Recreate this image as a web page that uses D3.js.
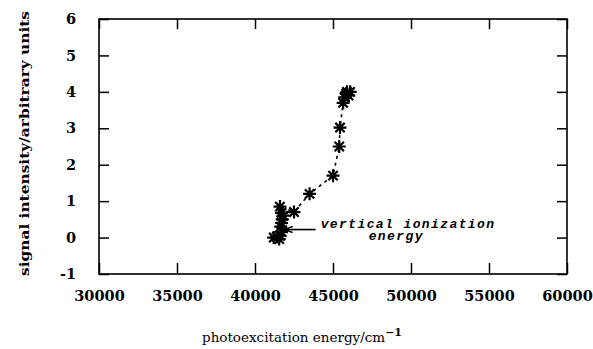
<!DOCTYPE html>
<html>
<head>
<meta charset="utf-8">
<script src="https://cdn.jsdelivr.net/npm/d3@7"></script>
<style>
  body { margin: 0; background: #fff; }
  svg { display: block; }
</style>
</head>
<body>
<script>
// Chart data
const energy = [41200, 41400, 41550, 41600, 41700, 41650, 41700, 41750, 41800, 41700, 41600,
                42500, 43500, 45000, 45400, 45450, 45650, 45750, 45900, 46000, 46100, 45850];
const signal = [0, 0.02, -0.04, 0.05, 0.15, 0.3, 0.4, 0.5, 0.6, 0.68, 0.85,
                0.7, 1.2, 1.7, 2.5, 3.02, 3.7, 3.85, 4.0, 3.9, 4.0, 3.95];
const xTicks = [30000, 35000, 40000, 45000, 50000, 55000, 60000];
const yTicks = [-1, 0, 1, 2, 3, 4, 5, 6];
const annotation = ['vertical ionization', 'energy'];
const arrowAt = { x: 41900, y: 0.22 };

const width = 593;
const height = 349;
const margin = { top: 19, right: 26, bottom: 75, left: 99 };
const innerWidth = width - margin.left - margin.right;
const innerHeight = height - margin.top - margin.bottom;

const svg = d3.select('body')
  .append('svg')
  .attr('width', width)
  .attr('height', height);

const g = svg.append('g')
  .attr('transform', `translate(${margin.left},${margin.top})`);

const x = d3.scaleLinear().domain([30000, 60000]).range([0, innerWidth]);
const y = d3.scaleLinear().domain([-1, 6]).range([innerHeight, 0]);

const tickFont = '"DejaVu Serif", serif';
const plainInt = d => String(d); // plain hyphen for negatives, as in the scan

// Axes: gnuplot style, ticks inside and mirrored
function styleAxis(sel, showText) {
  sel.select('.domain').remove();
  sel.selectAll('line').attr('stroke', '#000').attr('stroke-width', 1.5);
  if (!showText) {
    sel.selectAll('text').remove();
    return;
  }
  sel.selectAll('text')
    .attr('font-family', tickFont)
    .attr('font-weight', 'bold')
    .attr('font-size', 14.5)
    .attr('fill', '#000');
}

g.append('g')
  .attr('transform', `translate(0,${innerHeight})`)
  .call(d3.axisBottom(x).tickValues(xTicks).tickFormat(plainInt).tickSizeInner(-11).tickSizeOuter(0).tickPadding(17))
  .call(s => styleAxis(s, true));

g.append('g')
  .call(d3.axisTop(x).tickValues(xTicks).tickSizeInner(-10).tickSizeOuter(0))
  .call(s => styleAxis(s, false));

g.append('g')
  .call(d3.axisLeft(y).tickValues(yTicks).tickFormat(plainInt).tickSizeInner(-10).tickSizeOuter(0).tickPadding(23))
  .call(s => styleAxis(s, true));

g.append('g')
  .attr('transform', `translate(${innerWidth},0)`)
  .call(d3.axisRight(y).tickValues(yTicks).tickSizeInner(-10).tickSizeOuter(0))
  .call(s => styleAxis(s, false));

// frame
g.append('rect')
  .attr('width', innerWidth)
  .attr('height', innerHeight)
  .attr('fill', 'none')
  .attr('stroke', '#000')
  .attr('stroke-width', 1.6);

// dashed connecting line
const points = energy.map((e, i) => [e, signal[i]]);
g.append('path')
  .datum(points)
  .attr('fill', 'none')
  .attr('stroke', '#000')
  .attr('stroke-width', 1.6)
  .attr('stroke-dasharray', '3,4')
  .attr('d', d3.line().x(d => x(d[0])).y(d => y(d[1])));

// asterisk markers (plus + cross)
const r = 6.5;
const k = r * 0.72;
const star = `M${-r},0L${r},0M0,${-r}L0,${r}M${-k},${-k}L${k},${k}M${-k},${k}L${k},${-k}`;
g.selectAll('.star')
  .data(points)
  .enter()
  .append('path')
  .attr('class', 'star')
  .attr('transform', d => `translate(${x(d[0])},${y(d[1])})`)
  .attr('d', star)
  .attr('stroke', '#000')
  .attr('stroke-width', 2.2)
  .attr('fill', 'none');

// annotation with arrow
const ax = x(arrowAt.x);
const ay = y(arrowAt.y);
g.append('line')
  .attr('x1', ax)
  .attr('y1', ay)
  .attr('x2', ax + 31)
  .attr('y2', ay)
  .attr('stroke', '#000')
  .attr('stroke-width', 1.6);
g.append('path')
  .attr('d', `M${ax + 8},${ay - 3}L${ax},${ay}L${ax + 8},${ay + 3}`)
  .attr('stroke', '#000')
  .attr('stroke-width', 1.5)
  .attr('fill', 'none');

const note = g.append('text')
  .attr('font-family', '"Liberation Mono", "Courier New", monospace')
  .attr('font-weight', 'bold')
  .attr('font-style', 'italic')
  .attr('font-size', 13)
  .attr('letter-spacing', 1.4)
  .attr('fill', '#000');
note.append('tspan').attr('x', ax + 36).attr('y', ay - 2).text(annotation[0]);
note.append('tspan').attr('x', ax + 84).attr('y', ay + 10).text(annotation[1]);

// axis titles
const xTitle = svg.append('text')
  .attr('x', 302)
  .attr('y', 342)
  .attr('text-anchor', 'middle')
  .attr('font-family', tickFont)
  .attr('font-size', 13.5)
  .attr('fill', '#000');
xTitle.append('tspan').text('photoexcitation energy/cm');
xTitle.append('tspan').attr('dy', -6).attr('font-size', 11).attr('font-weight', 'bold').text('\u22121');

svg.append('text')
  .attr('transform', `translate(29,${margin.top + innerHeight / 2 - 3}) rotate(-90)`)
  .attr('text-anchor', 'middle')
  .attr('font-family', tickFont)
  .attr('font-weight', 'bold')
  .attr('font-size', 13.5)
  .attr('textLength', 265)
  .attr('lengthAdjust', 'spacingAndGlyphs')
  .attr('fill', '#000')
  .text('signal intensity/arbitrary units');
</script>
</body>
</html>
